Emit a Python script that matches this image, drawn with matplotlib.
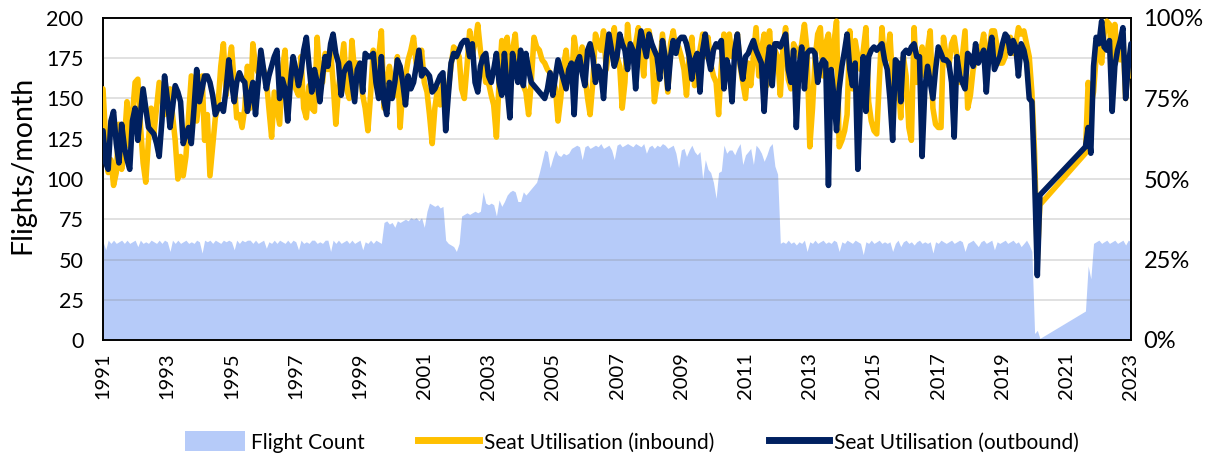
import numpy as np
import pandas as pd
import matplotlib
matplotlib.use("Agg")
import matplotlib.pyplot as plt
from matplotlib.patches import Patch
from matplotlib.lines import Line2D

# ---------------- data (monthly, Apr 2020 - Jul 2021 missing) ----------------
flights = [
    61, 56, 62, 60, 62, 60, 61, 62, 60, 62, 60, 61,   # 1991
    62, 58, 62, 60, 61, 60, 62, 61, 60, 62, 60, 62,   # 1992
    61, 55, 62, 60, 62, 60, 61, 62, 60, 61, 60, 62,   # 1993
    61, 54, 62, 61, 62, 60, 62, 61, 60, 62, 61, 62,   # 1994
    61, 56, 62, 60, 62, 61, 62, 62, 60, 62, 60, 61,   # 1995
    62, 57, 61, 60, 62, 60, 62, 61, 60, 62, 60, 62,   # 1996
    61, 56, 62, 60, 61, 60, 62, 62, 60, 61, 60, 62,   # 1997
    62, 55, 62, 60, 62, 60, 61, 62, 60, 62, 60, 61,   # 1998
    62, 56, 61, 60, 62, 60, 62, 61, 60, 73, 74, 72,   # 1999
    73, 70, 74, 73, 74, 75, 74, 76, 75, 76, 74, 76,   # 2000
    70, 80, 85, 84, 83, 84, 82, 83, 62, 60, 59, 58,   # 2001
    55, 60, 77, 78, 79, 78, 79, 80, 79, 80, 92, 85,   # 2002
    84, 85, 84, 77, 87, 83, 86, 90, 92, 93, 92, 86,   # 2003
    86, 92, 90, 92, 94, 96, 98, 104, 111, 118, 117, 107,  # 2004
    113, 118, 115, 114, 116, 115, 116, 119, 120, 121, 120, 112,  # 2005
    120, 121, 119, 120, 121, 120, 122, 119, 120, 121, 118, 112,  # 2006
    121, 122, 120, 121, 122, 121, 120, 122, 121, 120, 122, 116,  # 2007
    120, 121, 119, 121, 120, 122, 121, 119, 120, 121, 116, 107,  # 2008
    118, 119, 114, 118, 121, 117, 115, 117, 100, 112, 106, 104,  # 2009
    98, 88, 104, 105, 121, 116, 118, 118, 115, 119, 122, 109,    # 2010
    115, 117, 119, 109, 121, 119, 116, 111, 115, 120, 122, 108,  # 2011
    103, 60, 61, 60, 62, 60, 61, 59, 61, 60, 62, 55,  # 2012
    61, 60, 62, 60, 61, 62, 60, 61, 60, 62, 61, 55,   # 2013
    61, 60, 62, 61, 60, 62, 61, 60, 53, 61, 60, 62,   # 2014
    60, 61, 62, 60, 61, 60, 61, 55, 60, 62, 58, 61,   # 2015
    62, 60, 61, 59, 61, 62, 60, 61, 60, 61, 54, 61,   # 2016
    60, 62, 61, 60, 61, 62, 60, 61, 62, 61, 55, 60,   # 2017
    61, 62, 60, 58, 61, 62, 60, 61, 62, 56, 61, 60,   # 2018
    61, 62, 60, 61, 62, 60, 61, 58, 60, 62, 59, 55,   # 2019
    4, 6, 1,                                          # 2020 Jan-Mar
    18, 46, 38, 60, 61,                               # 2021 Aug-Dec
    62, 60, 61, 62, 60, 61, 62, 60, 61, 62, 59, 62,   # 2022
    61,                                               # 2023 Jan
]

outbound = [
    65, 55, 53, 68, 71, 61, 55, 67, 60, 56, 53, 68,   # 1991
    72, 62, 70, 78, 72, 66, 65, 64, 61, 57, 68, 82,   # 1992
    75, 66, 72, 79, 77, 74, 61, 64, 66, 61, 72, 84,   # 1993
    74, 78, 82, 82, 80, 76, 70, 72, 73, 71, 78, 87,   # 1994
    80, 74, 80, 83, 81, 80, 71, 76, 80, 70, 80, 90,   # 1995
    84, 78, 82, 85, 88, 90, 75, 81, 78, 68, 80, 88,   # 1996
    84, 79, 83, 90, 94, 85, 77, 84, 80, 74, 82, 88,   # 1997
    85, 92, 95, 89, 86, 76, 83, 85, 86, 80, 74, 84,   # 1998
    86, 77, 89, 88, 88, 89, 80, 75, 88, 74, 70, 80,   # 1999
    75, 80, 87, 85, 80, 73, 82, 78, 80, 85, 90, 82,   # 2000
    84, 83, 82, 77, 78, 80, 82, 83, 65, 76, 86, 89,   # 2001
    88, 90, 92, 93, 93, 88, 92, 80, 77, 85, 88, 89,   # 2002
    82, 80, 84, 89, 80, 76, 89, 78, 69, 89, 84, 80,   # 2003
    90, 79, 89, 84, 80, 79, 78, 77, 76, 75, 78, 83,   # 2004
    76, 82, 87, 84, 81, 78, 84, 86, 70, 86, 88, 83,   # 2005
    79, 90, 92, 88, 80, 85, 83, 75, 88, 95, 90, 85,   # 2006
    88, 95, 92, 90, 84, 92, 90, 78, 90, 96, 92, 88,   # 2007
    95, 92, 90, 88, 81, 93, 88, 78, 88, 93, 89, 93,   # 2008
    94, 94, 92, 88, 81, 87, 89, 77, 90, 95, 88, 84,   # 2009
    90, 92, 91, 93, 78, 87, 84, 74, 90, 95, 86, 81,   # 2010
    88, 89, 91, 93, 90, 88, 86, 71, 85, 91, 79, 92,   # 2011
    92, 91, 93, 95, 84, 80, 90, 66, 85, 91, 78, 89,   # 2012
    90, 90, 89, 80, 85, 87, 86, 48, 84, 76, 65, 78,   # 2013
    85, 90, 95, 84, 79, 86, 53, 75, 88, 71, 88, 90,   # 2014
    91, 90, 91, 92, 87, 84, 75, 62, 87, 86, 74, 89,   # 2015
    90, 89, 91, 92, 88, 88, 57, 78, 85, 80, 75, 84,   # 2016
    91, 89, 87, 87, 86, 80, 63, 88, 82, 80, 78, 89,   # 2017
    88, 85, 92, 86, 88, 90, 77, 89, 94, 84, 86, 88,   # 2018
    92, 95, 94, 89, 93, 91, 82, 92, 90, 86, 75, 74,   # 2019
    50, 20, 45,                                       # 2020 Jan-Mar
    60, 66, 58, 85, 94,                               # 2021 Aug-Dec
    92, 99, 91, 90, 93, 71, 85, 90, 93, 97, 75, 85,   # 2022
    92,                                               # 2023 Jan
]

inbound = [
    78, 62, 52, 56, 48, 52, 67, 53, 62, 74, 60, 70,   # 1991
    80, 81, 67, 55, 49, 62, 72, 64, 72, 80, 75, 70,   # 1992
    74, 78, 70, 62, 50, 57, 51, 57, 70, 82, 75, 68,   # 1993
    75, 82, 62, 70, 51, 60, 69, 73, 85, 92, 76, 85,   # 1994
    91, 80, 69, 70, 66, 72, 85, 72, 92, 85, 83, 87,   # 1995
    84, 81, 72, 63, 77, 72, 67, 84, 90, 74, 80, 82,   # 1996
    78, 76, 88, 72, 69, 79, 72, 71, 94, 82, 80, 89,   # 1997
    84, 90, 80, 67, 78, 85, 92, 78, 75, 93, 83, 86,   # 1998
    84, 76, 72, 65, 76, 90, 82, 88, 96, 72, 80, 85,   # 1999
    80, 76, 88, 66, 78, 82, 87, 90, 94, 86, 84, 90,   # 2000
    80, 77, 70, 61, 72, 78, 73, 80, 71, 78, 85, 91,   # 2001
    90, 88, 78, 75, 85, 96, 89, 92, 98, 90, 85, 80,   # 2002
    80, 76, 73, 63, 80, 93, 90, 94, 82, 90, 95, 84,   # 2003
    82, 79, 77, 70, 80, 94, 91, 90, 87, 86, 84, 83,   # 2004
    81, 78, 68, 75, 85, 90, 82, 80, 94, 88, 84, 91,   # 2005
    82, 75, 70, 80, 95, 92, 90, 96, 84, 90, 92, 97,   # 2006
    88, 85, 72, 80, 98, 88, 90, 92, 97, 90, 82, 96,   # 2007
    96, 90, 74, 80, 85, 95, 86, 77, 92, 96, 90, 91,   # 2008
    88, 84, 76, 88, 94, 79, 86, 90, 95, 88, 94, 86,   # 2009
    82, 80, 70, 85, 95, 86, 95, 88, 90, 95, 85, 80,   # 2010
    75, 86, 79, 88, 97, 82, 90, 95, 79, 96, 84, 90,   # 2011
    88, 76, 90, 97, 81, 78, 92, 90, 88, 92, 98, 90,   # 2012
    60, 72, 87, 95, 97, 82, 92, 95, 82, 92, 99, 60,   # 2013
    62, 65, 70, 96, 78, 93, 88, 84, 90, 97, 74, 68,   # 2014
    65, 64, 80, 97, 86, 88, 95, 80, 75, 81, 69, 88,   # 2015
    82, 66, 62, 97, 80, 86, 91, 82, 90, 96, 72, 67,   # 2016
    66, 66, 94, 88, 85, 92, 94, 88, 80, 88, 96, 72,   # 2017
    76, 84, 87, 88, 90, 95, 85, 90, 96, 96, 91, 86,   # 2018
    86, 88, 92, 94, 89, 92, 97, 95, 96, 92, 88, 77,   # 2019
    58, 25, 42,                                       # 2020 Jan-Mar
    58, 80, 73, 77, 88,                               # 2021 Aug-Dec
    93, 86, 95, 99, 98, 85, 98, 88, 87, 95, 75, 87,   # 2022
    82,                                               # 2023 Jan
]

tick_years = list(range(1991, 2024, 2))
left_ticks = [0, 25, 50, 75, 100, 125, 150, 175, 200]
right_ticks = [0, 25, 50, 75, 100]

all_months = pd.date_range("1991-01-01", "2023-01-01", freq="MS")
months = all_months[(all_months < "2020-04-01") | (all_months > "2021-07-01")]
assert len(months) == len(flights) == len(inbound) == len(outbound)

# ---------------- style ----------------
AREA = "#B6CBF9"
GOLD = "#FFC000"
NAVY = "#002060"
plt.rcParams["font.family"] = ["Lato", "DejaVu Sans"]

W, H = 1207, 458
fig = plt.figure(figsize=(W / 100, H / 100), dpi=100)
L, R, T, B = 103, 1131, 18, 340
ax1 = fig.add_axes([L / W, 1 - B / H, (R - L) / W, (B - T) / H])
ax2 = ax1.twinx()

ax1.fill_between(months, flights, 0, color=AREA, lw=0, zorder=1)
ax1.set_ylim(0, 200)
ax1.set_yticks(left_ticks)
ax1.set_xlim(all_months[0], all_months[-1])
ax1.set_xticks([pd.Timestamp(f"{y}-01-01") for y in tick_years])
ax1.set_xticklabels([str(y) for y in tick_years], rotation=90)
ax1.grid(axis="y", color="#7f7f7f", alpha=0.3, lw=1.1)
ax1.set_axisbelow(False)
ax1.tick_params(axis="y", length=0, pad=14, labelsize=15.5, colors="#000000")
ax1.tick_params(axis="x", length=0, pad=9, labelsize=14.5)

ax2.plot(months, inbound, color=GOLD, lw=4.0, solid_joinstyle="round",
         solid_capstyle="round", zorder=3)
ax2.plot(months, outbound, color=NAVY, lw=4.0, solid_joinstyle="round",
         solid_capstyle="round", zorder=4)
ax2.set_ylim(0, 100)
ax2.set_yticks(right_ticks)
ax2.set_yticklabels([f"{v}%" for v in right_ticks])
ax2.tick_params(axis="y", length=0, pad=9, labelsize=17)

for ax in (ax1, ax2):
    for s in ax.spines.values():
        s.set_color("#000000")
        s.set_linewidth(1.2)

fig.text(22 / W, 1 - 165 / H, "Flights/month", rotation=90, ha="center",
         va="center", fontsize=20.5)

handles = [
    Patch(facecolor=AREA, edgecolor="none"),
    Line2D([], [], color=GOLD, lw=5),
    Line2D([], [], color=NAVY, lw=5),
]
labels = ["Flight Count", "Seat Utilisation (inbound)", "Seat Utilisation (outbound)"]
fig.legend(handles, labels, loc="center", bbox_to_anchor=(632 / W, 1 - 442 / H),
           ncol=3, frameon=False, fontsize=15, handlelength=2.9,
           handleheight=1.1, handletextpad=0.25, columnspacing=2.6)

fig.savefig("out.png", dpi=100)
